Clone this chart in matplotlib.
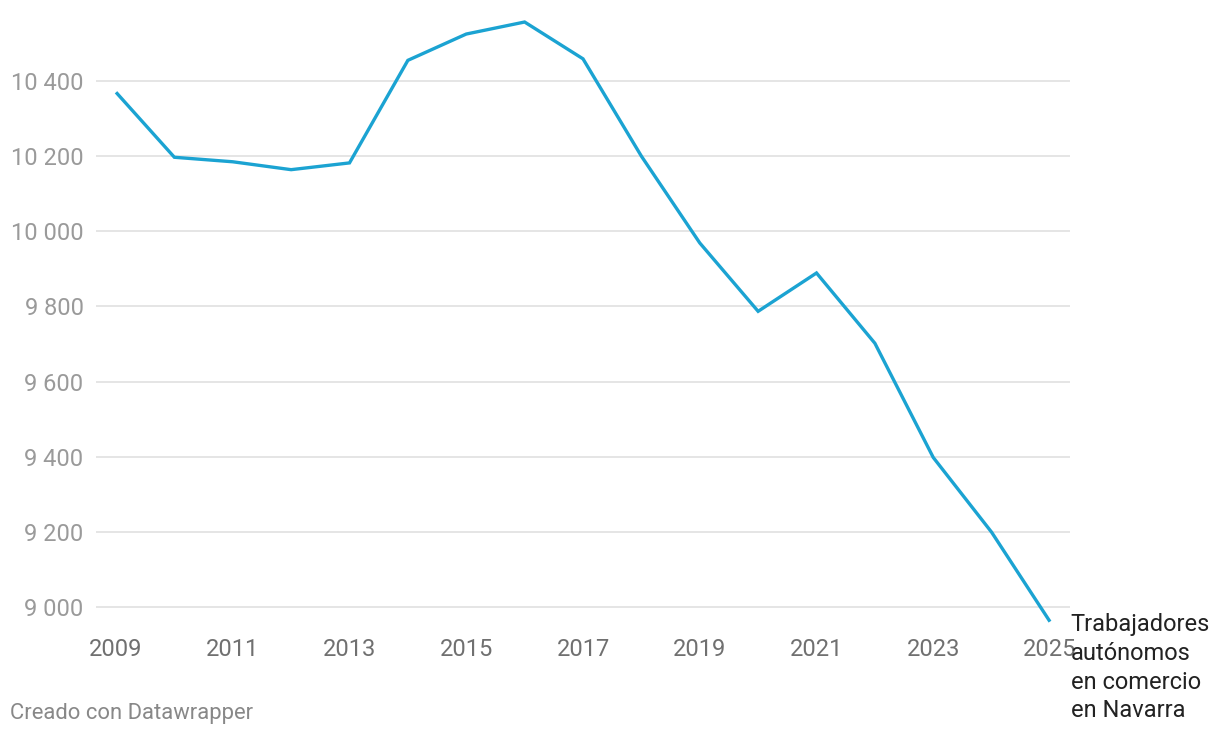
import matplotlib
matplotlib.use("Agg")
import matplotlib.pyplot as plt
from matplotlib.ticker import FuncFormatter

plt.rcParams['font.family'] = ['Roboto', 'DejaVu Sans']

# data
years = list(range(2009, 2026))
autonomos = [10370, 10197, 10185, 10164, 10182, 10455, 10525, 10557, 10459,
             10200, 9969, 9787, 9889, 9702, 9398, 9199, 8961]
y_ticks = [9000, 9200, 9400, 9600, 9800, 10000, 10200, 10400]
x_ticks = list(range(2009, 2026, 2))
serie_label = "Trabajadores\nautónomos\nen comercio\nen Navarra"

W, H = 1220, 738
fig = plt.figure(figsize=(W / 100, H / 100), dpi=100)
ax_l, ax_r, ax_t, ax_b = 96, 1070, 10, 630
ax = fig.add_axes([ax_l / W, 1 - ax_b / H, (ax_r - ax_l) / W, (ax_b - ax_t) / H])

# pixel scale
ppu = 526 / 1400
ax.set_ylim(9000 - (ax_b - 607) / ppu, 10400 + (81 - ax_t) / ppu)
ppy = (1050 - 116) / 16
ax.set_xlim(2009 - 20 / ppy, 2025 + 20 / ppy)

ax.plot(years, autonomos, color='#1ba3d2', lw=2.4, solid_capstyle='butt',
        solid_joinstyle='miter', zorder=3, clip_on=False)

ax.set_yticks(y_ticks)
ax.yaxis.set_major_formatter(FuncFormatter(lambda v, p: f"{int(v):,}".replace(",", " ")))
ax.set_xticks(x_ticks)
ax.grid(axis='y', color='#e3e3e3', lw=1.3)
ax.tick_params(axis='y', length=0, pad=9, labelsize=17, labelcolor='#9a9a9a')
ax.tick_params(axis='x', length=0, pad=6, labelsize=17, labelcolor='#707070')
for s in ax.spines.values():
    s.set_visible(False)

# series label next to the last point (as in the original, it touches "2025")
ax.annotate(serie_label, xy=(years[-1], autonomos[-1]), xytext=(15, 6.5),
            textcoords='offset points', ha='left', va='top', fontsize=17,
            color='#222222', linespacing=1.33, annotation_clip=False)

fig.text(10 / W, 1 - 714 / H, "Creado con Datawrapper", fontsize=15.8,
         color='#888888', ha='left', va='center')

fig.savefig("out.png", dpi=100)
